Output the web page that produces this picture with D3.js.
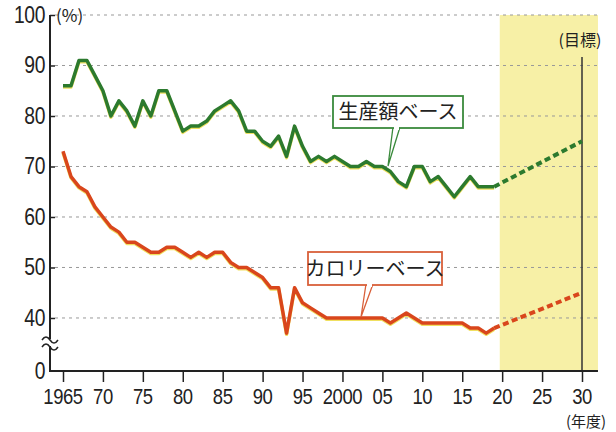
<!DOCTYPE html>
<html lang="ja">
<head>
<meta charset="UTF-8">
<title>食料自給率</title>
<script src="https://d3js.org/d3.v7.min.js"></script>
<style>
  body { margin: 0; background: #fff; }
  .num { font-family: "Liberation Sans", Arial, sans-serif; fill: #222; }
  .jp { font-family: "Noto Sans CJK JP", sans-serif; fill: #222; }
</style>
</head>
<body>
<div id="chart"></div>
<script>
// fiscal years with actual values
var years = d3.range(1965, 2020);
// production value basis (%)
var prodBase = [86, 86, 91, 91, 88, 85, 80, 83, 81, 78, 83, 80, 85, 85, 81, 77, 78, 78, 79, 81,
  82, 83, 81, 77, 77, 75, 74, 76, 72, 78, 74, 71, 72, 71, 72, 71, 70, 70, 71, 70,
  70, 69, 67, 66, 70, 70, 67, 68, 66, 64, 66, 68, 66, 66, 66];
// calorie basis (%)
var calBase = [73, 68, 66, 65, 62, 60, 58, 57, 55, 55, 54, 53, 53, 54, 54, 53, 52, 53, 52, 53,
  53, 51, 50, 50, 49, 48, 46, 46, 37, 46, 43, 42, 41, 40, 40, 40, 40, 40, 40, 40,
  40, 39, 40, 41, 40, 39, 39, 39, 39, 39, 39, 38, 38, 37, 38];
// 2030 targets
var targetYear = 2030;
var prodTarget = 75;
var calTarget = 45;

var xTicks = [1965, 1970, 1975, 1980, 1985, 1990, 1995, 2000, 2005, 2010, 2015, 2020, 2025, 2030];
var xTickLabels = ["1965", "70", "75", "80", "85", "90", "95", "2000", "05", "10", "15", "20", "25", "30"];
var yTicks = [40, 50, 60, 70, 80, 90, 100];

var width = 616, height = 432;
var svg = d3.select("#chart").append("svg")
    .attr("width", width)
    .attr("height", height);

var x = d3.scaleLinear().domain([1965, 2030]).range([63, 582]);
// broken axis: bottom of the axis shows 0
var yBottom = 29.5;
var y = d3.scaleLinear().domain([yBottom, 100]).range([371, 15]);
var axisX = 50;
var rightEdge = x(2032);

// target period shading
svg.append("rect")
    .attr("x", x(2019.7))
    .attr("y", y(100))
    .attr("width", rightEdge - x(2019.7))
    .attr("height", y(yBottom) - y(100))
    .attr("fill", "#f7f0a6");

// dotted gridlines
svg.append("g")
  .selectAll("line")
  .data(yTicks)
  .join("line")
    .attr("x1", axisX + 5)
    .attr("x2", rightEdge)
    .attr("y1", function(d) { return y(d); })
    .attr("y2", function(d) { return y(d); })
    .attr("stroke", "#999")
    .attr("stroke-width", 1)
    .attr("stroke-dasharray", "3,4");

// target year line
svg.append("line")
    .attr("x1", x(targetYear)).attr("x2", x(targetYear))
    .attr("y1", 57).attr("y2", y(yBottom))
    .attr("stroke", "#333").attr("stroke-width", 1.5);
svg.append("text")
    .attr("class", "jp")
    .attr("x", x(targetYear) - 2).attr("y", 46)
    .attr("text-anchor", "middle")
    .attr("font-size", 16)
    .text("(目標)");

// Y axis
var yAxis = svg.append("g").attr("transform", "translate(" + axisX + ",0)")
    .call(d3.axisRight(y).tickValues(yTicks).tickSize(5).tickFormat(""));
yAxis.select(".domain").remove();
yAxis.selectAll("line").attr("stroke", "#222").attr("stroke-width", 1.5);
svg.append("line")
    .attr("x1", axisX).attr("x2", axisX)
    .attr("y1", y(100)).attr("y2", y(yBottom))
    .attr("stroke", "#222").attr("stroke-width", 2);

// condensed numeric labels
svg.append("g").selectAll("text")
  .data(yTicks.concat([yBottom]))
  .join("text")
    .attr("class", "num")
    .attr("transform", function(d) { return "translate(" + (axisX - 5) + "," + (y(d) + 8) + ") scale(0.84,1)"; })
    .attr("text-anchor", "end")
    .attr("font-size", 23)
    .attr("letter-spacing", -0.5)
    .text(function(d) { return d === yBottom ? "0" : d; });

svg.append("text")
    .attr("class", "jp")
    .attr("x", axisX + 6).attr("y", y(100) + 7)
    .attr("font-size", 17)
    .text("(%)");

// axis break mark
var brk = svg.append("g");
[338, 345].forEach(function(by) {
  brk.append("path")
    .attr("d", "M" + (axisX - 8) + "," + (by + 2) + " q4,-6 8,0 t8,0")
    .attr("fill", "none")
    .attr("stroke", "#222")
    .attr("stroke-width", 1.5);
});
brk.insert("rect", ":first-child")
    .attr("x", axisX - 2).attr("y", 339).attr("width", 4).attr("height", 7)
    .attr("fill", "#fff");

// X axis
var xAxis = svg.append("g").attr("transform", "translate(0," + y(yBottom) + ")")
    .call(d3.axisBottom(x).tickValues(xTicks).tickSize(11).tickFormat(""));
xAxis.select(".domain").remove();
xAxis.selectAll("line").attr("stroke", "#222").attr("stroke-width", 1.5);
svg.append("line")
    .attr("x1", axisX - 1).attr("x2", rightEdge)
    .attr("y1", y(yBottom)).attr("y2", y(yBottom))
    .attr("stroke", "#222").attr("stroke-width", 2);

svg.append("g").selectAll("text")
  .data(xTicks)
  .join("text")
    .attr("class", "num")
    .attr("transform", function(d) { return "translate(" + x(d) + ",404) scale(0.84,1)"; })
    .attr("text-anchor", "middle")
    .attr("font-size", 22)
    .attr("letter-spacing", -0.5)
    .text(function(d, i) { return xTickLabels[i]; });

svg.append("text")
    .attr("class", "jp")
    .attr("x", x(2030) + 4).attr("y", 427)
    .attr("text-anchor", "middle")
    .attr("font-size", 15)
    .text("(年度)");

// series lines
var line = d3.line()
    .x(function(d) { return x(d[0]); })
    .y(function(d) { return y(d[1]); });

function drawSeries(vals, target, color) {
  var pts = years.map(function(yr, i) { return [yr, vals[i]]; });
  var last = pts[pts.length - 1];
  var tgt = [[last[0], last[1]], [targetYear, target]];
  // yellowish print halo
  svg.append("path").datum(pts)
    .attr("d", line).attr("fill", "none")
    .attr("stroke", "#f0e060").attr("stroke-width", 3.5)
    .attr("stroke-linejoin", "round")
    .attr("transform", "translate(0,1.2)");
  svg.append("path").datum(pts)
    .attr("d", line).attr("fill", "none")
    .attr("stroke", color).attr("stroke-width", 3.5)
    .attr("stroke-linejoin", "round");
  svg.append("path").datum(tgt)
    .attr("d", line).attr("fill", "none")
    .attr("stroke", color).attr("stroke-width", 4)
    .attr("stroke-dasharray", "6,3.5");
}
drawSeries(prodBase, prodTarget, "#2c7a2e");
drawSeries(calBase, calTarget, "#d9461c");

// callout labels
function callout(bx, by, bw, bh, tail, text, color) {
  var g = svg.append("g");
  g.append("path")
    .attr("d", "M" + tail[0] + "," + (by + bh - 1) + " L" + tail[2] + "," + tail[3] +
               " L" + tail[1] + "," + (by + bh - 1))
    .attr("fill", "#fff").attr("stroke", color).attr("stroke-width", 1.3);
  g.append("rect")
    .attr("x", bx).attr("y", by).attr("width", bw).attr("height", bh)
    .attr("fill", "#fff").attr("stroke", color).attr("stroke-width", 1.8);
  g.append("rect")
    .attr("x", tail[0] + 1).attr("y", by + bh - 3).attr("width", tail[1] - tail[0] - 2).attr("height", 5)
    .attr("fill", "#fff");
  g.append("text")
    .attr("class", "jp")
    .attr("x", bx + bw / 2).attr("y", by + bh / 2 + 7)
    .attr("text-anchor", "middle")
    .attr("font-size", 20)
    .text(text);
}
callout(333, 96, 130, 32, [393, 400, 388, 166], "生産額ベース", "#3a8a3c");
callout(308, 252, 134, 33, [366, 373, 361, 317], "カロリーベース", "#d9603a");
</script>
</body>
</html>
